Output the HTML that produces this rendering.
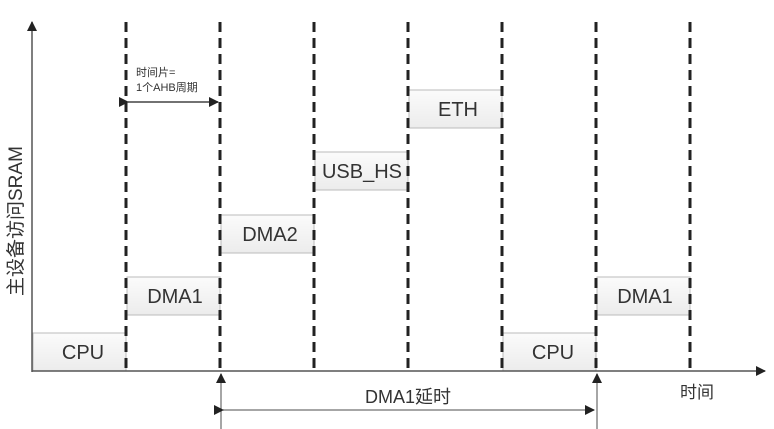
<!DOCTYPE html>
<html><head><meta charset="utf-8"><style>
html,body{margin:0;padding:0;background:#fff;}
svg{display:block;}
text{font-family:"Liberation Sans","Noto Sans CJK SC",sans-serif;fill:#333;}
</style></head><body>
<svg width="774" height="429" viewBox="0 0 774 429" xmlns="http://www.w3.org/2000/svg">
<defs>
<linearGradient id="g" x1="0" y1="0" x2="0" y2="1">
<stop offset="0" stop-color="#fbfbfb"/><stop offset="1" stop-color="#ececec"/>
</linearGradient>
<marker id="ah" markerWidth="10" markerHeight="10" refX="9" refY="5" orient="auto" markerUnits="userSpaceOnUse">
<path d="M0,0 L10,5 L0,10 z" fill="#222"/></marker>
</defs>
<g stroke="#bbb" stroke-width="1" fill="url(#g)">
<rect x="33" y="333" width="93" height="38"/>
<rect x="127" y="277" width="93" height="38"/>
<rect x="221" y="215" width="93" height="38"/>
<rect x="315" y="152" width="93" height="38"/>
<rect x="409" y="90" width="93" height="38"/>
<rect x="503" y="333" width="93" height="38"/>
<rect x="597" y="277" width="93" height="38"/>
</g>
<g font-size="20" text-anchor="middle">
<text x="83" y="359">CPU</text>
<text x="175" y="303">DMA1</text>
<text x="270" y="241">DMA2</text>
<text x="362" y="178">USB_HS</text>
<text x="458" y="116">ETH</text>
<text x="553" y="359">CPU</text>
<text x="645" y="303">DMA1</text>
</g>
<g stroke="#222" stroke-width="3" stroke-dasharray="10,6">
<line x1="126" y1="22" x2="126" y2="371"/>
<line x1="220" y1="22" x2="220" y2="371"/>
<line x1="314" y1="22" x2="314" y2="371"/>
<line x1="408" y1="22" x2="408" y2="371"/>
<line x1="502" y1="22" x2="502" y2="371"/>
<line x1="596" y1="22" x2="596" y2="371"/>
<line x1="690" y1="22" x2="690" y2="371"/>
</g>
<line x1="32" y1="372" x2="32" y2="22" stroke="#555" stroke-width="1.5" marker-end="url(#ah)"/>
<line x1="32" y1="371" x2="765" y2="371" stroke="#555" stroke-width="1.5" marker-end="url(#ah)"/>
<text x="0" y="0" font-size="19" transform="translate(22,296) rotate(-90)">主设备访问SRAM</text>
<text x="680" y="398" font-size="17">时间</text>
<line x1="128" y1="102" x2="218" y2="102" stroke="#444" stroke-width="1.5" marker-start="url(#ah)" marker-end="url(#ah)"/>
<text x="136" y="76" font-size="11">时间片=</text>
<text x="136" y="91" font-size="11">1个AHB周期</text>
<line x1="221" y1="429" x2="221" y2="374" stroke="#888" stroke-width="1.5" marker-end="url(#ah)"/>
<line x1="597" y1="429" x2="597" y2="374" stroke="#888" stroke-width="1.5" marker-end="url(#ah)"/>
<line x1="223" y1="410" x2="594" y2="410" stroke="#888" stroke-width="1.5" marker-start="url(#ah)" marker-end="url(#ah)"/>
<text x="408" y="403" font-size="18" text-anchor="middle">DMA1延时</text>
</svg>
</body></html>
